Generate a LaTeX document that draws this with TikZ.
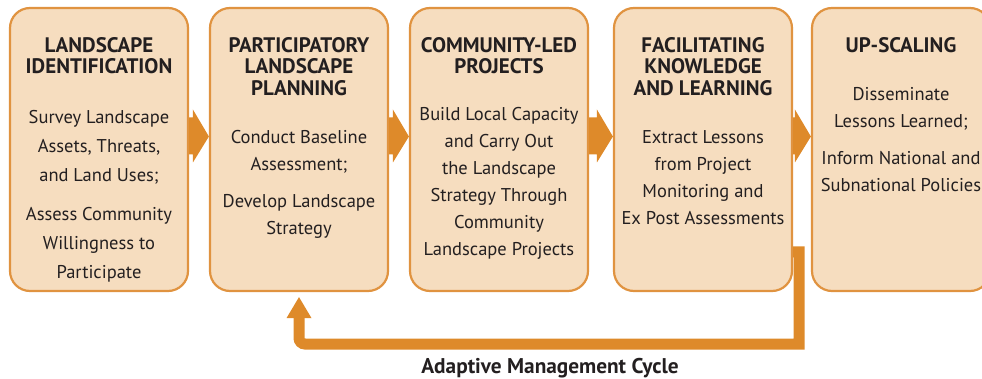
\documentclass[tikz,border=0pt]{standalone}
\usepackage{fontspec}
\setmainfont{PT Sans}
\usetikzlibrary{calc}
\definecolor{boxfill}{HTML}{F6DDBF}
\definecolor{boxline}{HTML}{E09340}
\definecolor{arrowc}{HTML}{DE8A2A}
\definecolor{txt}{HTML}{231F20}
\newcommand\flowarr[2]{%
  \fill[arrowc] ($(#1.east)+(0,-32)$) -- ($(#2.west)+(-16,-32)$) -- ($(#2.west)+(-16,-40)$)
    -- ($(#2.west)+(0,-13)$) -- ($(#2.west)+(-16,13)$) -- ($(#2.west)+(-16,5)$)
    -- ($(#1.east)+(0,5)$) -- cycle;}
\begin{document}
\begin{tikzpicture}[x=1pt,y=-1pt,
  stage/.style={draw=boxline, fill=boxfill, line width=2.2pt, rounded corners=20pt,
    minimum width=178pt, minimum height=283pt, inner sep=0pt},
  ttl/.style={anchor=north, align=center, inner sep=0pt, text=txt,
    font=\bfseries\fontsize{21}{21.8}\selectfont},
  bodytxt/.style={anchor=north, align=center, inner sep=0pt, text=txt,
    font=\fontsize{18.5}{27}\selectfont},
  loopline/.style={draw=arrowc, line width=11pt}]
\useasboundingbox (0,0) rectangle (982,379);
\node[stage] (b1) at (99,149.5) {};
\node[stage] (b2) at (299,149.5) {};
\node[stage] (b3) at (499,149.5) {};
\node[stage] (b4) at (703,149.5) {};
\node[stage] (b5) at (901,149.5) {};
\flowarr{b1}{b2}
\flowarr{b2}{b3}
\flowarr{b3}{b4}
\flowarr{b4}{b5}
% titles
\node[ttl] (t1) at ($(b1.north)+(0,30)$) {LANDSCAPE\\IDENTIFICATION};
\node[ttl] (t2) at ($(b2.north)+(0,30)$) {PARTICIPATORY\\LANDSCAPE\\PLANNING};
\node[ttl] (t3) at ($(b3.north)+(0,30)$) {COMMUNITY-LED\\PROJECTS};
\node[ttl] (t4) at ($(b4.north)+(0,30)$) {FACILITATING\\KNOWLEDGE\\AND LEARNING};
\node[ttl] (t5) at ($(b5.north)+(0,30)$) {UP-SCALING};
% bodies
\node[bodytxt, font=\fontsize{18.5}{29}\selectfont] (d1) at ($(b1.north)+(0,103.5)$)
  {Survey Landscape\\Assets, Threats,\\and Land Uses;\\[10pt]Assess Community\\Willingness to\\Participate};
\node[bodytxt] (d2) at ($(b2.north)+(0,123.5)$)
  {Conduct Baseline\\Assessment;\\[10pt]Develop Landscape\\Strategy};
\node[bodytxt] (d3) at ($(b3.north)+(0,100.5)$)
  {Build Local Capacity\\and Carry Out\\the Landscape\\Strategy Through\\Community\\Landscape Projects};
\node[bodytxt] (d4) at ($(b4.north)+(0,123.5)$)
  {Extract Lessons\\from Project\\Monitoring and\\Ex Post Assessments};
\node[bodytxt] (d5) at ($(b5.north)+(0,80)$)
  {Disseminate\\Lessons Learned;\\[10pt]Inform National and\\Subnational Policies};
% feedback loop
\coordinate (turn) at (799,344);
\coordinate (fbtip) at ($(b2.south)+(0,5)$);
\draw[loopline] ($(b4.east)+(0,102.5)$) -| (turn) [rounded corners=6pt] -| ($(fbtip)+(0,20)$);
\fill[arrowc] ($(fbtip)+(-12.5,21)$) -- (fbtip) -- ($(fbtip)+(12.5,21)$) -- cycle;
\node[text=txt, font=\bfseries\fontsize{21.3}{22}\selectfont] (cap) at (550,368) {Adaptive Management Cycle};
\end{tikzpicture}
\end{document}
